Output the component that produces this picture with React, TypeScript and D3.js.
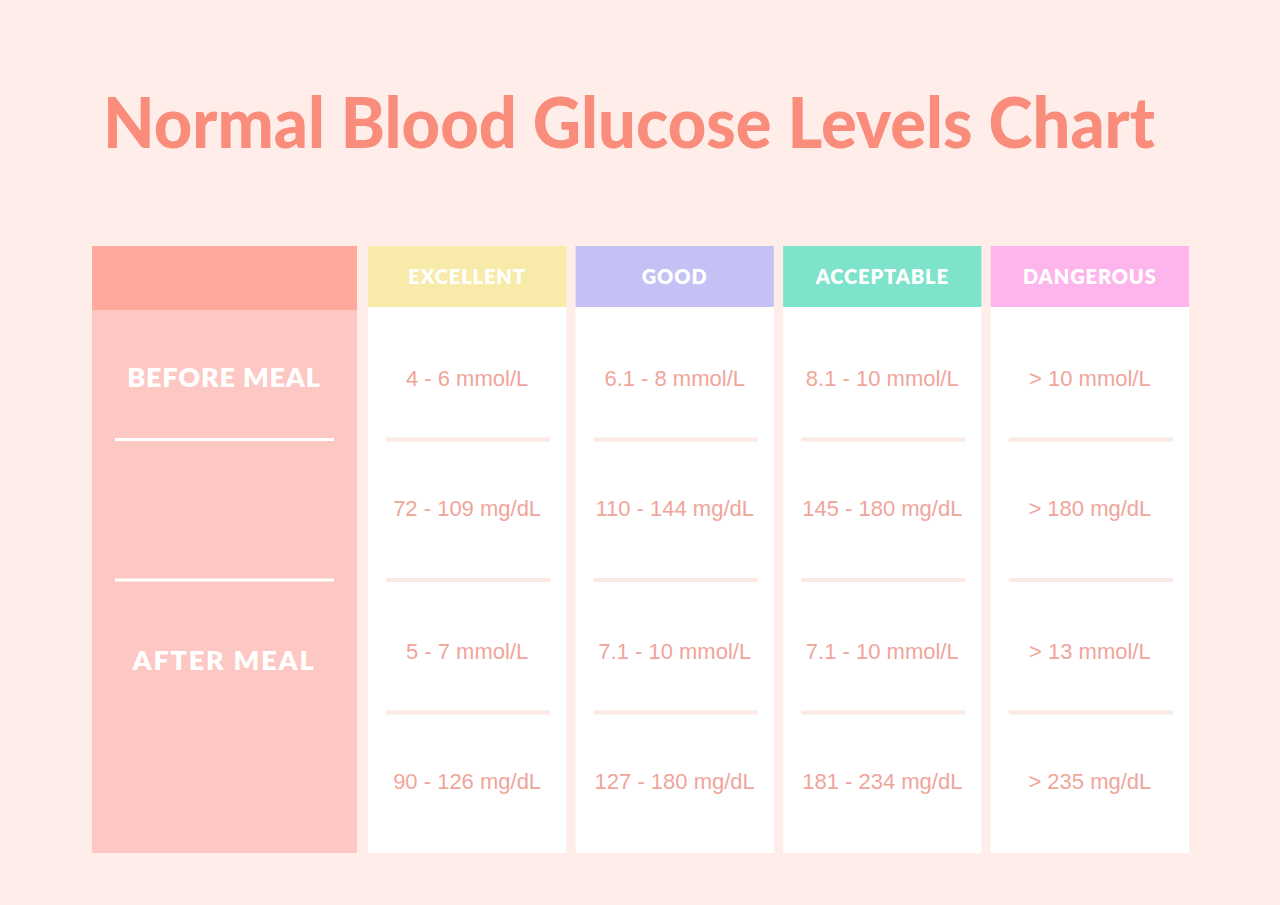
import React from "react";
import * as d3 from "d3";

const title = "Normal Blood Glucose Levels Chart";
const categories = ["EXCELLENT", "GOOD", "ACCEPTABLE", "DANGEROUS"];
const categoryColors = ["#F8EAA8", "#C6C1F5", "#7EE3CB", "#FDB5EC"];
const mealGroups = ["BEFORE MEAL", "AFTER MEAL"];
const units = ["mmol/L", "mg/dL"];
const excellentValues = ["4 - 6 mmol/L", "72 - 109 mg/dL", "5 - 7 mmol/L", "90 - 126 mg/dL"];
const goodValues = ["6.1 - 8 mmol/L", "110 - 144 mg/dL", "7.1 - 10 mmol/L", "127 - 180 mg/dL"];
const acceptableValues = ["8.1 - 10 mmol/L", "145 - 180 mg/dL", "7.1 - 10 mmol/L", "181 - 234 mg/dL"];
const dangerousValues = ["> 10 mmol/L", "> 180 mg/dL", "> 13 mmol/L", "> 235 mg/dL"];
const columnValues = [excellentValues, goodValues, acceptableValues, dangerousValues];

const W = 1280;
const H = 905;
const BG = "#FEEDE8";
const TITLE_COLOR = "#FA8C7B";
const VALUE_COLOR = "#F0A59B";
const HEAD_FONT = "Lato, 'Open Sans', sans-serif";

export default function App() {
  const x = d3.scaleBand<string>().domain(categories).range([368, 1189]).paddingInner(0.045).paddingOuter(0);
  const headerTop = 246;
  const headerBottom = 307;
  const bodyBottom = 853;
  const g = d3.scaleBand<string>().domain(mealGroups).range([headerBottom, bodyBottom]);
  const sub = d3.scaleBand<string>().domain(units).range([7, 266]);
  const rowY = (ri: number) => (g(mealGroups[Math.floor(ri / 2)]) as number) + (sub(units[ri % 2]) as number) + sub.bandwidth() / 2;
  const separators = [
    (g(mealGroups[0]) as number) + (sub(units[1]) as number) - 4,
    g(mealGroups[1]) as number,
    (g(mealGroups[1]) as number) + (sub(units[1]) as number) - 4,
  ];
  const leftX0 = 92;
  const leftX1 = 357;

  return (
    <div style={{ position: "fixed", left: 0, top: 0, width: W, height: H, overflow: "hidden" }}>
      <svg width={W} height={H} style={{ display: "block" }}>
        <rect x={0} y={0} width={W} height={H} fill={BG} />
        <text
          x={629}
          y={148}
          textAnchor="middle"
          fontFamily={HEAD_FONT}
          fontWeight={900}
          fontSize={70}
          fill={TITLE_COLOR}
          textLength={1052}
          lengthAdjust="spacingAndGlyphs"
        >
          {title}
        </text>

        {/* left column */}
        <rect x={leftX0} y={headerTop} width={leftX1 - leftX0} height={310 - headerTop} fill="#FEA99C" />
        <rect x={leftX0} y={310} width={leftX1 - leftX0} height={bodyBottom - 310} fill="#FDC8C3" />
        {mealGroups.map((m, i) => (
          <text
            key={m}
            x={224}
            y={(g(m) as number) + 71 + (i === 1 ? 10 : 0)}
            dy="0.35em"
            textAnchor="middle"
            fontFamily={HEAD_FONT}
            fontWeight={800}
            fontSize={27}
            fill="#FFFFFF"
            letterSpacing={i === 1 ? 1.8 : 0.8}
          >
            {m}
          </text>
        ))}
        {separators.slice(0, 2).map((s, i) => (
          <line key={i} x1={115} x2={334} y1={s} y2={s} stroke="#FFFFFF" strokeWidth={3} />
        ))}

        {/* category columns */}
        {categories.map((c, ci) => {
          const cx = x(c) as number;
          const bw = x.bandwidth();
          return (
            <g key={c}>
              <rect x={cx} y={headerBottom} width={bw} height={bodyBottom - headerBottom} fill="#FFFFFF" />
              <rect x={cx} y={headerTop} width={bw} height={headerBottom - headerTop} fill={categoryColors[ci]} />
              <text
                x={cx + bw / 2}
                y={(headerTop + headerBottom) / 2}
                dy="0.36em"
                textAnchor="middle"
                fontFamily={HEAD_FONT}
                fontWeight={800}
                fontSize={20}
                letterSpacing={0.9}
                fill="#FFFFFF"
              >
                {c}
              </text>
              {separators.map((s, si) => (
                <line
                  key={si}
                  x1={cx + 18}
                  x2={cx + bw - 16}
                  y1={s}
                  y2={s}
                  stroke="#FBEAE4"
                  strokeWidth={4}
                />
              ))}
              {columnValues[ci].map((v, ri) => (
                <text
                  key={ri}
                  x={cx + bw / 2}
                  y={rowY(ri)}
                  dy="0.35em"
                  textAnchor="middle"
                  fontFamily="'Liberation Sans', Arial, sans-serif"
                  fontSize={22}
                  fill={VALUE_COLOR}
                >
                  {v}
                </text>
              ))}
            </g>
          );
        })}
      </svg>
    </div>
  );
}
